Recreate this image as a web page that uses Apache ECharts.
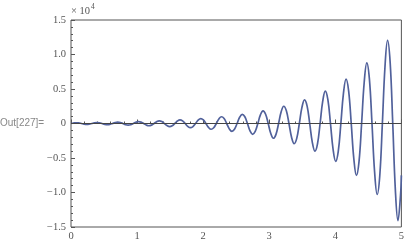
<!DOCTYPE html>
<html>
<head>
<meta charset="utf-8">
<script src="https://cdn.jsdelivr.net/npm/echarts@6/dist/echarts.min.js"></script>
<style>
html,body{margin:0;padding:0;background:#fff;}
#c{width:407px;height:243px;}
</style>
</head>
<body>
<div id="c"></div>
<script>
var xValues = [0,0.0393,0.0785,0.1178,0.1571,0.1963,0.2356,0.2749,0.3142,0.3534,0.3927,0.4320,0.4712,0.5105,0.5498,0.5890,0.6283,0.6676,0.7069,0.7461,0.7854,0.8247,0.8639,0.9032,0.9425,0.9817,1.0210,1.0603,1.0996,1.1388,1.1781,1.2174,1.2566,1.2959,1.3352,1.3744,1.4137,1.4530,1.4923,1.5315,1.5708,1.6101,1.6493,1.6886,1.7279,1.7671,1.8064,1.8457,1.8850,1.9242,1.9635,2.0028,2.0420,2.0813,2.1206,2.1598,2.1991,2.2384,2.2777,2.3169,2.3562,2.3955,2.4347,2.4740,2.5133,2.5525,2.5918,2.6311,2.6704,2.7096,2.7489,2.7882,2.8274,2.8667,2.9060,2.9452,2.9845,3.0238,3.0631,3.1023,3.1416,3.1809,3.2201,3.2594,3.2987,3.3379,3.3772,3.4165,3.4558,3.4950,3.5343,3.5736,3.6128,3.6521,3.6914,3.7306,3.7699,3.8092,3.8485,3.8877,3.9270,3.9663,4.0055,4.0448,4.0841,4.1233,4.1626,4.2019,4.2412,4.2804,4.3197,4.3590,4.3982,4.4375,4.4768,4.5160,4.5553,4.5946,4.6338,4.6731,4.7124,4.7517,4.7909,4.8302,4.8695,4.9087,4.9480,4.9873,5.0];
var yValues = [0,74,108,80,0,-86,-127,-93,0,101,148,109,0,-118,-173,-127,0,138,203,149,0,-161,-237,-174,0,189,278,204,0,-221,-325,-239,0,258,380,280,0,-302,-445,-327,0,354,520,383,0,-414,-609,-448,0,484,712,524,0,-567,-834,-613,0,663,975,717,0,-776,-1141,-839,0,908,1335,982,0,-1062,-1562,-1149,0,1243,1828,1345,0,-1454,-2139,-1573,0,1702,2503,1841,0,-1991,-2929,-2154,0,2330,3427,2520,0,-2726,-4010,-2949,0,3190,4692,3451,0,-3733,-5490,-4037,0,4367,6424,4724,0,-5110,-7516,-5528,0,5979,8795,6468,0,-6996,-10291,-7568,0,8186,12041,8855,0,-9579,-14089,-10362,-7516];
var xTicks = [0,1,2,3,4,5];
var yTickLabels = ['−1.5','−1.0','−0.5','0','0.5','1.0','1.5'];

var data = xValues.map(function(x,i){return [x, yValues[i]];});
var chart = echarts.init(document.getElementById('c'), null, {renderer:'canvas'});
var labelFont = {fontFamily:'Liberation Serif', fontSize:10.5, color:'#555'};
chart.setOption({
  animation:false,
  backgroundColor:'#fff',
  grid:{left:71,right:4,top:20,bottom:16,show:true,borderColor:'#555',borderWidth:1,backgroundColor:'transparent'},
  xAxis:{type:'value',min:0,max:5,interval:1,
    axisLine:{show:false},
    axisTick:{show:true,inside:true,length:4,lineStyle:{color:'#555'}},
    minorTick:{show:true,splitNumber:5,length:2,lineStyle:{color:'#555'}},
    splitLine:{show:false},
    axisLabel:Object.assign({margin:4,formatter:function(v){return String(v);}},labelFont)
  },
  yAxis:{type:'value',min:-15000,max:15000,interval:5000,
    axisLine:{show:false},
    axisTick:{show:true,inside:true,length:4,lineStyle:{color:'#555'}},
    minorTick:{show:true,splitNumber:5,length:2,lineStyle:{color:'#555'}},
    splitLine:{show:false},
    axisLabel:Object.assign({margin:5,formatter:function(v){return yTickLabels[Math.round((v+15000)/5000)];}},labelFont)
  },
  graphic:[
    {type:'text',left:0,top:118,style:{text:'Out[227]=',font:'10px "Liberation Sans"',fill:'#888'}},
    {type:'text',left:71,top:6,style:{text:'× 10',font:'10.5px "Liberation Serif"',fill:'#555'}},
    {type:'text',left:91,top:3,style:{text:'4',font:'7.5px "Liberation Serif"',fill:'#555'}}
  ],
  series:[{
    type:'line',data:data,showSymbol:false,smooth:0.4,
    lineStyle:{color:'#51619b',width:1.7},
    markLine:{silent:true,symbol:['none','none'],label:{show:false},
      lineStyle:{color:'#444',width:1,type:'solid'},data:[{yAxis:0}]}
  }]
});
</script>
</body>
</html>
